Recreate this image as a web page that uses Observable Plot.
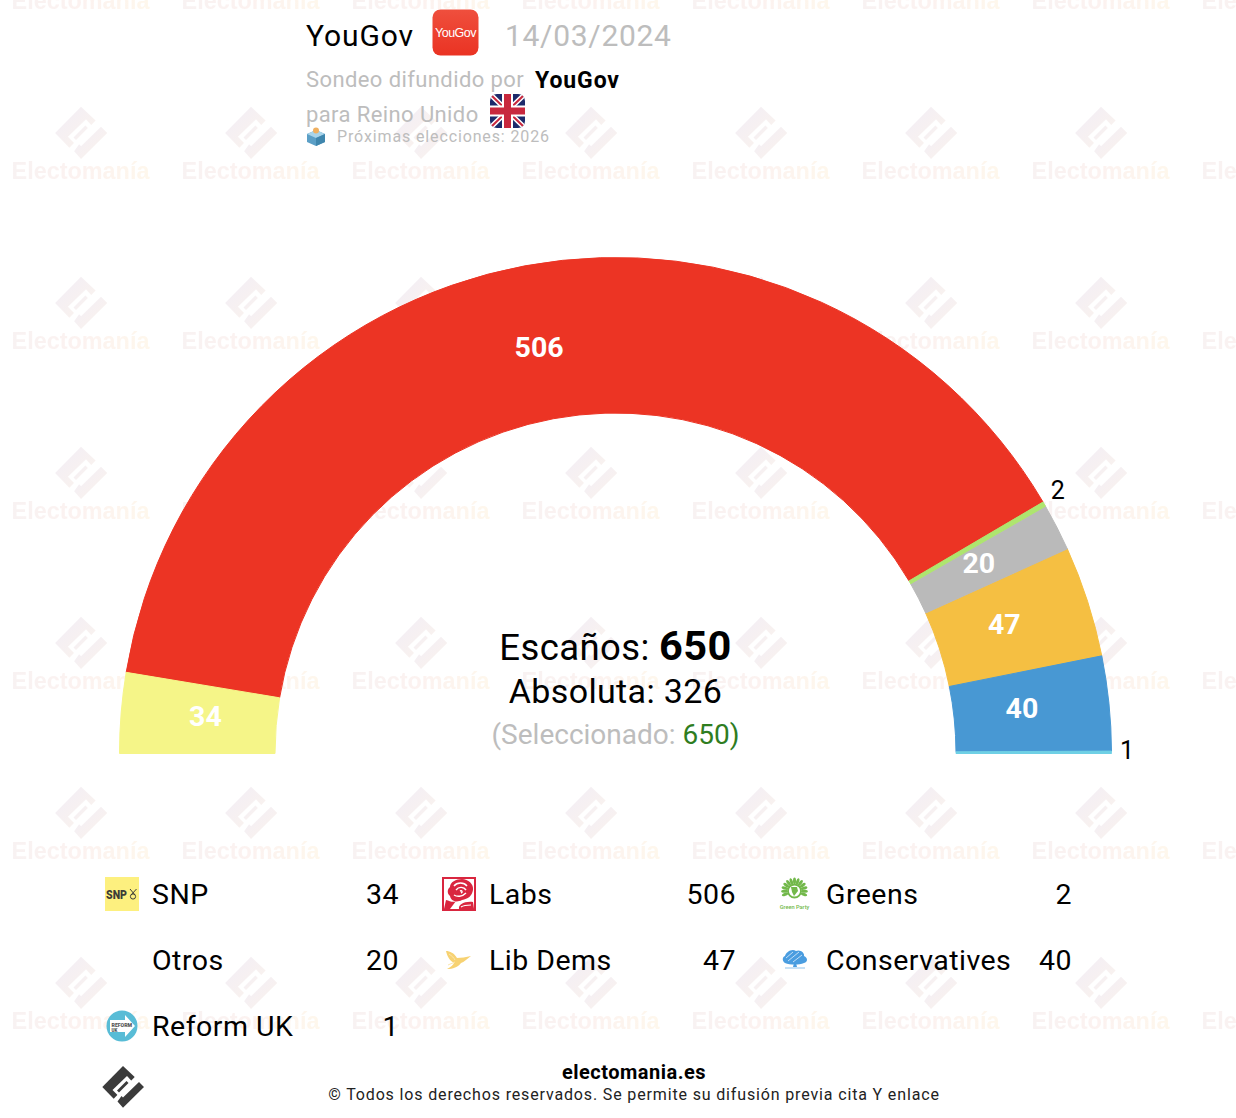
<!DOCTYPE html>
<html lang="es">
<head>
<meta charset="utf-8">
<title>YouGov 14/03/2024</title>
<script src="https://cdn.jsdelivr.net/npm/d3@7"></script>
<script src="https://cdn.jsdelivr.net/npm/@observablehq/plot@0.6"></script>
<style>
html,body{margin:0;padding:0;background:#fff;}
body{width:1236px;height:1118px;position:relative;overflow:hidden;font-family:Roboto,sans-serif;}
#wm{position:absolute;left:0;top:0;z-index:0;}
#page{position:absolute;left:0;top:0;width:1236px;height:1118px;z-index:1;}
.t{position:absolute;white-space:nowrap;line-height:1;}
.c{position:absolute;left:0;width:1231px;text-align:center;white-space:nowrap;line-height:1;}
.ic{position:absolute;display:block;overflow:visible;}
#chart{position:absolute;left:0;top:240px;}
</style>
</head>
<body>
<svg id="wm" width="1236" height="1118"></svg>
<div id="page">
  <div id="chart"></div>
  <div id="head"></div>
  <div id="center"></div>
  <div id="legend"></div>
  <div id="foot"></div>
</div>
<script>
// ---- data ----
const parties = ["SNP","Labs","Greens","Otros","Lib Dems","Conservatives","Reform UK"];
const seats   = [34,506,2,20,47,40,1];
const colors  = ["#f5f588","#ec3424","#aee56f","#bababa","#f5bf42","#4898d3","#6fd0e5"];
const outsideLabels = ["Greens","Reform UK"];
const pollster = "YouGov";
const pollDate = "14/03/2024";
const regionName = "para Reino Unido";
const nextElection = "Próximas elecciones: 2026";
const totalSeats = 650, majority = 326, selectedSeats = 650;

// ---- derived table ----
let running = 0;
const rows = parties.map((party,i)=>{
  const start = running; running += seats[i];
  return {party, seats:seats[i], start, end:running, mid:(start+running)/2};
});

// ---- chart ----
const W=1236,H=540,mL=119.5,mR=124.5,mB=26.5,mT=17;
const rOuter=(W-mL-mR)/2, rInner=340.5, rLabel=410, rOut=511;
const cx=mL+rOuter, cy=H-mB;
const rad=a=>a*Math.PI/180;
const polar=(r)=>(index,scales,values,dims,ctx,next)=>{
  const X=values.x, nx=new Float64Array(X.length), ny=new Float64Array(X.length);
  for(const i of index){ nx[i]=cx-r*Math.cos(rad(X[i])); ny[i]=cy-r*Math.sin(rad(X[i])); }
  return next(index,scales,{...values,x:nx,y:ny},dims,ctx);
};
const arcRender=(index,scales,values)=>{
  const g=d3.create("svg:g").attr("transform",`translate(${cx},${cy})`);
  const arc=d3.arc().innerRadius(rInner).outerRadius(rOuter);
  // narrow slices are painted last so that they stay visible
  const order=Array.from(index).sort((a,b)=>rows[b].seats-rows[a].seats);
  for(const i of order){
    g.append("path")
     .attr("d",arc({startAngle:rad(values.x1[i]-90),endAngle:rad(values.x2[i]-90)}))
     .attr("fill",values.fill[i])
     .attr("stroke",values.fill[i])
     .attr("stroke-width",1)
     .append("title").text(`${rows[i].party}: ${rows[i].seats}`);
  }
  return g.node();
};
const inside=rows.filter(d=>!outsideLabels.includes(d.party));
const chart=Plot.plot({
  width:W,height:H,marginLeft:mL,marginRight:mR,marginTop:mT,marginBottom:mB,
  style:{background:"transparent",fontFamily:"Roboto, sans-serif",overflow:"visible"},
  x:{domain:[0,totalSeats],range:[0,180],axis:null},
  color:{domain:parties,range:colors},
  marks:[
    Plot.rect(rows,{x1:"start",x2:"end",fill:"party",render:arcRender}),
    Plot.text(inside,{x:"mid",text:d=>String(d.seats),fill:"#fff",fontSize:28.5,fontWeight:700,dx:-2,dy:-3.5,render:polar(rLabel)}),
    Plot.text(rows.filter(d=>d.party==="Greens"),{x:"mid",text:d=>String(d.seats),fill:"#000",fontSize:25,dy:-6.5,render:polar(rOut)}),
    Plot.text(rows.filter(d=>d.party==="Reform UK"),{x:"mid",text:d=>String(d.seats),fill:"#000",fontSize:25,dy:-2,render:polar(rOut)})
  ]
});
document.getElementById("chart").append(chart);

// ---- watermark ----
const logoBody="M0,-21L11.7,-10L-9.3,11.7L-20.7,0Z";
const logoSvg=(fg,bg)=>`<path d="${logoBody}" fill="${fg}"/><path d="M4,-11L-10.5,3L-4,9.5L10,-4.5Z" fill="${bg}"/><path d="M3.5,-6L-6,3.5L-4,5.5L5.5,-4Z" fill="${fg}"/><path d="M-5.5,14.5L0,20.7L21,0L16,-5L0,10.5L-1.5,9Z" fill="${fg}"/>`;
document.getElementById("wm").innerHTML=`
<defs>
<linearGradient id="wg" x1="0" x2="1" y1="0" y2="0"><stop offset="0" stop-color="#f8f2f2"/><stop offset=".5" stop-color="#fcf2f0"/><stop offset="1" stop-color="#fef7ec"/></linearGradient>
<linearGradient id="ig" x1="0" x2="1" y1="0" y2="1"><stop offset="0" stop-color="#f1edf7"/><stop offset="1" stop-color="#fcf4ec"/></linearGradient>
<pattern id="wp" patternUnits="userSpaceOnUse" x="0" y="100" width="170" height="170">
<g transform="translate(81,33) scale(1.25)">${logoSvg("url(#ig)","#fff")}</g>
<text x="80.5" y="79" text-anchor="middle" font-family="Liberation Sans" font-weight="700" font-size="23.4" fill="url(#wg)">Electomanía</text>
</pattern></defs>
<rect width="1236" height="1118" fill="url(#wp)"/>`;

// ---- icons ----
const svgIcon=(x,y,w,h,inner,vb)=>`<svg class="ic" style="left:${x}px;top:${y}px" width="${w}" height="${h}" viewBox="${vb||`0 0 ${w} ${h}`}">${inner}</svg>`;
const icons={
 "SNP":`<rect width="34" height="34" fill="#fdf07f"/><text x="1" y="21.5" font-family="Roboto" font-weight="900" font-size="12.5" textLength="21" lengthAdjust="spacingAndGlyphs" fill="#3d3d38">SNP</text><circle cx="28" cy="19.5" r="2.6" fill="none" stroke="#3d3d38" stroke-width="1"/><path d="M25,12L30,18M31.5,12L26,18" stroke="#3d3d38" stroke-width="1"/>`,
 "Labs":`<rect width="34" height="34" fill="#d9263f"/><rect x="2" y="2" width="30" height="30" fill="#fff"/><path d="M8,10C8,5 14,2 20,2C26,2 32,7 31,13C30,19 26,22 20,23C14,26 9,24 8,19C5,17 5,12 8,10Z" fill="#d9263f"/><path d="M12,9C15,5 22,5 25,9M14,13C17,9 22,10 24,13M12,18C15,20 20,20 24,16M18,14C20,13 21,15 19,16" stroke="#fff" stroke-width="1.4" fill="none"/><path d="M2,32L4,23C8,24 11,26 14,24L8,32Z" fill="#d9263f"/><path d="M17,32C16,28 22,24 31,25L32,32Z" fill="#d9263f"/><path d="M19,30C22,28 25,28 29,28" stroke="#fff" stroke-width="1.2" fill="none"/>`,
 "Greens":`<g fill="#72b84a"><circle cx="15.5" cy="14" r="6.5" fill="none" stroke="#72b84a" stroke-width="1.8"/><path d="M12,10L18,10L19,14L15,19L13,15Z"/>${d3.range(13).map(i=>`<ellipse cx="15.5" cy="4" rx="1.5" ry="3.4" transform="rotate(${-110+i*220/12} 15.5 14)"/>`).join("")}<text x="15.5" y="31.5" text-anchor="middle" font-family="Roboto" font-size="5.6" font-weight="500">Green Party</text></g>`,
 "Lib Dems":`<path d="M4,8C8,8 12,10 15,15C19,15 24,14 29,13C25,16 22,19 19,20C16,24 11,26 5,26C9,24 11,22 12,20C8,18 5,13 4,8Z" fill="#f7d272"/><path d="M7,11C10,13 12,15 13,17M6,22L13,19" stroke="#fbe6ae" stroke-width="1" fill="none"/>`,
 "Conservatives":`<path d="M6,20C3,18 3,14 6,13C7,9 13,5 17,8C21,6 26,10 25,13C29,15 29,19 25,20C20,22 11,22 6,20Z" fill="#4a9de0"/><path d="M7,15L14,9M9,18L20,9M14,19L23,12" stroke="#cfe5f7" stroke-width=".9" fill="none"/><path d="M15,20L14,24H18L17,20Z" fill="#4a9de0"/><path d="M6,25H26" stroke="#8fc3ec" stroke-width="1"/>`,
 "Reform UK":`<circle cx="17" cy="17" r="15.5" fill="#58bcd6"/><path d="M5,11H20V6L30,17L20,28V23H5Z" fill="#fff"/><text x="6.5" y="18" font-family="Roboto" font-weight="900" font-size="5.2" fill="#555">REFORM</text><text x="6.5" y="23" font-family="Roboto" font-weight="900" font-size="4.5" fill="#555">UK</text>`
};

// ---- legend ----
const colX=[{icon:105,name:152,val:399},{icon:442,name:489,val:736},{icon:779,name:826,val:1072}];
const rowY=[894,960,1026];
document.getElementById("legend").innerHTML=parties.map((p,i)=>{
  const c=colX[i%3], y=rowY[Math.floor(i/3)];
  const ic=icons[p]?svgIcon(c.icon,y-17,34,34,icons[p]):"";
  return ic+`<div class="t" style="left:${c.name}px;top:${y-13}px;font-size:28.5px;color:#000;letter-spacing:.48px">${p}</div>`+
    `<div class="t" style="right:${1236-c.val}px;top:${y-13}px;font-size:28.5px;color:#000;letter-spacing:.48px">${seats[i]}</div>`;
}).join("");

// ---- header ----
const grey="#bdbdbd";
document.getElementById("head").innerHTML=`
<div class="t" style="left:306px;top:21px;font-size:30px;color:#000;letter-spacing:.9px">${pollster}</div>
${svgIcon(432,9,47,47,`<defs><linearGradient id="yg" x1="0" x2="0" y1="0" y2="1"><stop offset="0" stop-color="#ef4f3d"/><stop offset="1" stop-color="#ea3323"/></linearGradient></defs><rect x=".5" y=".5" width="46" height="46" rx="8" fill="url(#yg)"/><text x="23.5" y="27.5" text-anchor="middle" font-family="Liberation Sans" font-size="12.5" letter-spacing="-.5" fill="#fff">YouGov</text>`)}
<div class="t" style="left:505px;top:21px;font-size:30px;color:${grey};letter-spacing:.7px">${pollDate}</div>
<div class="t" style="left:306px;top:69px;font-size:22px;color:${grey};letter-spacing:.4px">Sondeo difundido por</div>
<div class="t" style="left:535px;top:69px;font-size:23px;font-weight:700;color:#000;letter-spacing:.9px">${pollster}</div>
<div class="t" style="left:306px;top:104px;font-size:22px;color:${grey};letter-spacing:.4px">${regionName}</div>
${svgIcon(490,94,35,34,`<defs><clipPath id="fc"><rect width="35" height="34" rx="7"/></clipPath></defs><g clip-path="url(#fc)"><rect width="35" height="34" fill="#1c2a6b"/><path d="M0,0L35,34M35,0L0,34" stroke="#fff" stroke-width="5"/><path d="M0,0L35,34M35,0L0,34" stroke="#c8283e" stroke-width="2"/><path d="M17.5,0V34M0,17H35" stroke="#fff" stroke-width="11"/><path d="M17.5,0V34M0,17H35" stroke="#c8283e" stroke-width="7"/></g>`)}
${svgIcon(306,127,20,20,`<path d="M1,7L10,3L19,7V15L10,19L1,15Z" fill="#5b9fc6"/><path d="M1,7L10,11L19,7L10,3Z" fill="#a8d4ea"/><path d="M10,11V19L19,15V7Z" fill="#3f86ad"/><circle cx="10" cy="3.5" r="3" fill="#f0b060"/>`)}
<div class="t" style="left:337px;top:129px;font-size:16px;color:${grey};letter-spacing:.87px">${nextElection}</div>`;

// ---- centre ----
document.getElementById("center").innerHTML=`
<div class="c" style="top:624.5px;font-size:36.5px;color:#000;letter-spacing:.4px">Escaños: <b style="font-size:41.5px">${totalSeats}</b></div>
<div class="c" style="top:674px;font-size:34px;color:#000;letter-spacing:.35px">Absoluta: ${majority}</div>
<div class="c" style="top:721px;font-size:28px;color:${grey}">(Seleccionado: <span style="color:#2f7d1f">${selectedSeats})</span></div>`;

// ---- footer ----
document.getElementById("foot").innerHTML=`
${svgIcon(100,1064,46,46,`<g transform="translate(23,23)">${logoSvg("#3b3b3b","#fff")}</g>`)}
<div class="t" style="left:0;width:1268px;text-align:center;top:1062px;font-size:20px;font-weight:700;color:#000;letter-spacing:.5px">electomania.es</div>
<div class="t" style="left:0;width:1268px;text-align:center;top:1087px;font-size:16px;color:#222;letter-spacing:.85px">© Todos los derechos reservados. Se permite su difusión previa cita Y enlace</div>`;
</script>
</body>
</html>
